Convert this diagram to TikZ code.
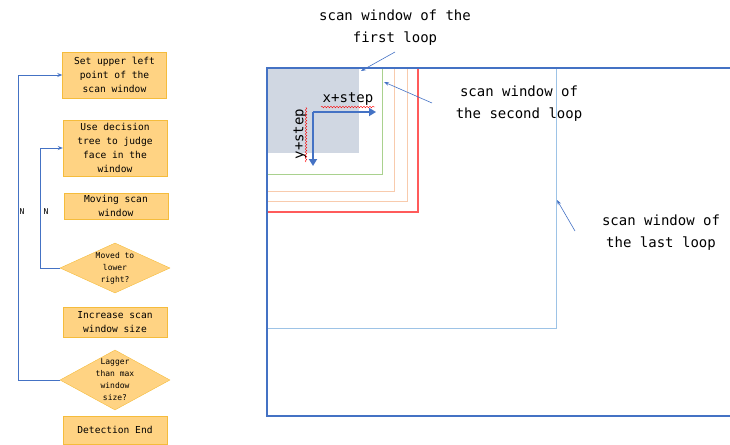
\documentclass[tikz,border=0pt]{standalone}
\usepackage{xcolor}
\usepackage{fontspec}
\setmonofont{DejaVu Sans Mono}
\usepackage{tikz}
\usetikzlibrary{arrows.meta, positioning, shapes, decorations.pathmorphing}

\definecolor{boxfill}{HTML}{FFD383}
\definecolor{boxline}{HTML}{F5BC3C}
\definecolor{loopblue}{HTML}{4472C4}
\definecolor{paleblue}{HTML}{9DC3E6}
\definecolor{winred}{HTML}{FF5B5B}
\definecolor{winorange}{HTML}{F8CBAD}
\definecolor{wingreen}{HTML}{A9D18E}
\definecolor{wingray}{HTML}{D0D7E2}

\begin{document}
\begin{tikzpicture}[x=1pt, y=-1pt,
    stepbox/.style={draw=boxline, fill=boxfill, align=center, minimum width=104pt,
        inner xsep=2pt, inner ysep=1pt, font=\ttfamily\fontsize{9.6}{14}\selectfont},
    decide/.style={diamond, draw=boxline, fill=boxfill, inner sep=0pt,
        minimum width=110pt},
    decidetext/.style={align=center, font=\ttfamily\fontsize{8}{12}\selectfont},
    loopline/.style={draw=loopblue, line width=0.9pt, -{Stealth[length=5pt,width=4pt]}},
    note/.style={align=center, font=\ttfamily\fontsize{14}{22}\selectfont},
    pointer/.style={draw=loopblue, line width=0.6pt, -{Stealth[length=5pt,width=3.5pt]}},
    stepline/.style={draw=loopblue, line width=2.6pt, -{Triangle[length=7pt,width=8pt]}},
    spell/.style={draw=red, line width=0.4pt, decorate,
        decoration={snake, amplitude=0.8pt, segment length=3pt}}]
\useasboundingbox (0,0) rectangle (730,444);

% flow chart
\node[stepbox, minimum height=46pt] (setpoint) at (114.5,75) {Set upper left\\point of the\\scan window};
\node[stepbox, minimum height=56pt] (judge) at (115,148) {Use decision\\tree to judge\\face in the\\window};
\node[stepbox, minimum height=26pt] (move) at (116,206) {Moving scan\\window};
\node[decide, minimum height=50pt] (lowright) at (115,268) {};
\node[decidetext] (lowrighttext) at (lowright) {Moved to\\lower\\right?};
\node[stepbox, minimum height=30pt] (grow) at (115,322) {Increase scan\\window size};
\node[decide, minimum height=60pt] (maxsize) at (115,380) {};
\node[decidetext] (maxsizetext) at (maxsize) {Lagger\\than max\\window\\size?};
\node[stepbox, minimum height=28pt] (finish) at (115,430) {Detection End};

\draw[loopline] (maxsize.west) -- ++(-41,0) |- (setpoint.west);
\draw[loopline] (lowright.west) -- ++(-19,0) |- (judge.west);
\node[font=\ttfamily\fontsize{8}{10}\selectfont] (nouter) at (22,212) {N};
\node[font=\ttfamily\fontsize{8}{10}\selectfont] (ninner) at (46,212) {N};

% scan windows
\fill[wingray] (267,68) rectangle (359,153);
\draw[winorange, line width=0.7pt] (267,68) rectangle (407,201);
\draw[winorange, line width=0.7pt] (267,68) rectangle (394,191);
\draw[wingreen, line width=0.9pt] (267,68) rectangle (382,174);
\draw[winred, line width=1.1pt] (267,68) rectangle (418,212);
\draw[paleblue, line width=1pt] (267,68) rectangle (556,328);
\draw[loopblue, line width=1.4pt] (730,68) -- (267,68) -- (267,416) -- (730,416);

\coordinate (origin) at (313,112);
\coordinate (xend) at (376,112);
\coordinate (yend) at (313,166);
\draw[stepline] (origin) -- (xend);
\draw[stepline] (origin) -- (yend);
\node[font=\ttfamily\fontsize{14}{16}\selectfont, inner sep=0pt] (xlabel) at (348,99) {x+step};
\node[font=\ttfamily\fontsize{14}{16}\selectfont, inner sep=0pt, rotate=90] (ylabel) at (300,134) {y+step};
\coordinate (xwavy) at (321,107);
\coordinate (ywavy) at (306,162);
\draw[spell] (xwavy) -- ++(54,0);
\draw[spell] (ywavy) -- ++(0,-55);

% notes
\node[note] (firstnote) at (395,28) {scan window of the\\first loop};
\node[note] (secondnote) at (519,104) {scan window of\\the second loop};
\node[note] (lastnote) at (661,233) {scan window of\\the last loop};
\coordinate (firsttail) at (395,52);
\coordinate (firsttip) at (361,71);
\coordinate (secondtail) at (432,103);
\coordinate (secondtip) at (384,82);
\coordinate (lasttail) at (575,231);
\coordinate (lasttip) at (557,200);
\draw[pointer] (firsttail) -- (firsttip);
\draw[pointer] (secondtail) -- (secondtip);
\draw[pointer] (lasttail) -- (lasttip);
\end{tikzpicture}
\end{document}
